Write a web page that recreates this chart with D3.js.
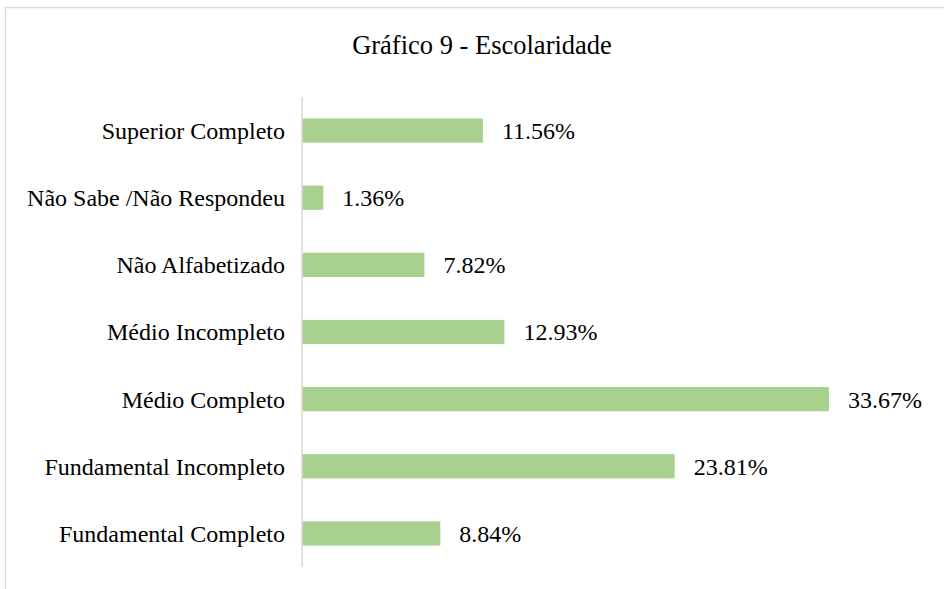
<!DOCTYPE HTML>
<html>
  <head>
    <meta charset="utf-8">
    <style>
      body { margin: 0px; background: #fff; }
      text { font-family: "Liberation Serif", "Times New Roman", serif; fill: #000; }
    </style>
  </head>
  <body>
    <script src="https://cdn.jsdelivr.net/npm/d3@7"></script>
    <script>
      // *** DATA ***
      var categories = ["Superior Completo", "Não Sabe /Não Respondeu", "Não Alfabetizado",
                        "Médio Incompleto", "Médio Completo", "Fundamental Incompleto",
                        "Fundamental Completo"];
      var values = [11.56, 1.36, 7.82, 12.93, 33.67, 23.81, 8.84];

      var W = 944, H = 589;
      var plotLeft = 302, plotTop = 97, plotBottom = 567;

      var svg = d3.select("body").append("svg")
        .attr("width", W).attr("height", H);

      // chart frame
      svg.append("rect")
        .attr("x", 5.5).attr("y", 7.5)
        .attr("width", W + 10).attr("height", H + 10)
        .style("fill", "none").style("stroke", "#d9d9d9").style("stroke-width", 1.5);

      // title
      svg.append("text")
        .attr("x", 482).attr("y", 54)
        .style("font-size", "26.5px")
        .style("text-anchor", "middle")
        .text("Gráfico 9 - Escolaridade");

      var x = d3.scaleLinear().domain([0, 33.67]).range([plotLeft, 829]);
      var y = d3.scaleBand().domain(categories).range([plotTop, plotBottom])
        .paddingInner(0.64).paddingOuter(0.32);

      // bars
      svg.selectAll("rect.bar").data(values)
        .enter().append("rect")
          .attr("class", "bar")
          .attr("x", x(0))
          .attr("y", function(d, i){ return y(categories[i]); })
          .attr("width", function(d){ return x(d) - x(0); })
          .attr("height", y.bandwidth())
          .style("fill", "#a9d18e");

      // axis line
      svg.append("line")
        .attr("x1", plotLeft).attr("x2", plotLeft)
        .attr("y1", plotTop).attr("y2", plotBottom)
        .style("stroke", "#d9d9d9").style("stroke-width", 1.5);

      // category labels
      svg.selectAll("text.cat").data(categories)
        .enter().append("text")
          .attr("class", "cat")
          .attr("x", plotLeft - 17)
          .attr("y", function(d){ return y(d) + y.bandwidth()/2; })
          .attr("dy", ".35em")
          .style("font-size", "24px")
          .style("text-anchor", "end")
          .text(function(d){ return d; });

      // value labels
      svg.selectAll("text.val").data(values)
        .enter().append("text")
          .attr("class", "val")
          .attr("x", function(d){ return x(d) + 19; })
          .attr("y", function(d, i){ return y(categories[i]) + y.bandwidth()/2; })
          .attr("dy", ".35em")
          .style("font-size", "24px")
          .text(function(d){ return d.toFixed(2) + "%"; });
    </script>
  </body>
</html>
